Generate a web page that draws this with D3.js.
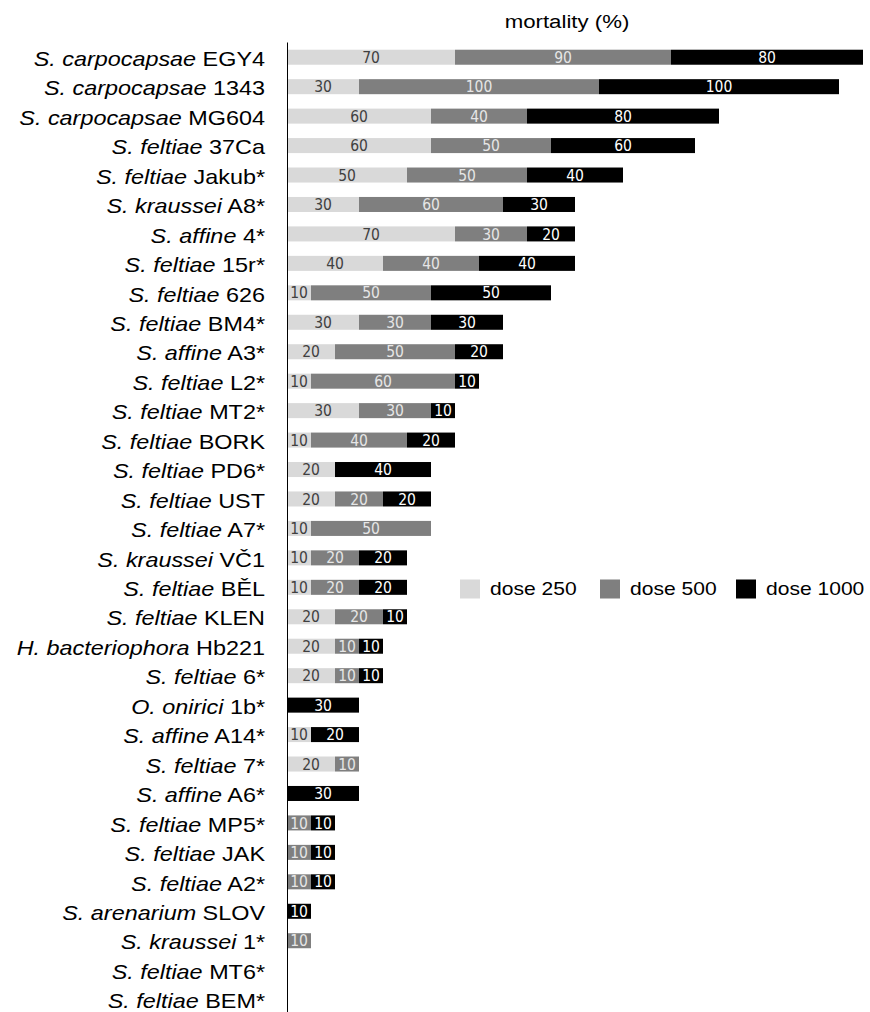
<!DOCTYPE html>
<html>
<head>
<meta charset="utf-8">
<script src="https://cdn.jsdelivr.net/npm/d3@7"></script>
<style>
  body { margin: 0; background: #fff; }
  svg { display: block; }
</style>
</head>
<body>
<div id="chart"></div>
<script>
// data
const genus = ["S. carpocapsae","S. carpocapsae","S. carpocapsae","S. feltiae","S. feltiae","S. kraussei","S. affine","S. feltiae","S. feltiae","S. feltiae","S. affine","S. feltiae","S. feltiae","S. feltiae","S. feltiae","S. feltiae","S. feltiae","S. kraussei","S. feltiae","S. feltiae","H. bacteriophora","S. feltiae","O. onirici","S. affine","S. feltiae","S. affine","S. feltiae","S. feltiae","S. feltiae","S. arenarium","S. kraussei","S. feltiae","S. feltiae"];
const strain = ["EGY4","1343","MG604","37Ca","Jakub*","A8*","4*","15r*","626","BM4*","A3*","L2*","MT2*","BORK","PD6*","UST","A7*","VČ1","BĚL","KLEN","Hb221","6*","1b*","A14*","7*","A6*","MP5*","JAK","A2*","SLOV","1*","MT6*","BEM*"];
const dose250  = [70,30,60,60,50,30,70,40,10,30,20,10,30,10,20,20,10,10,10,20,20,20, 0,10,20, 0, 0, 0, 0, 0, 0,0,0];
const dose500  = [90,100,40,50,50,60,30,40,50,30,50,60,30,40, 0,20,50,20,20,20,10,10, 0, 0,10, 0,10,10,10, 0,10,0,0];
const dose1000 = [80,100,80,60,40,30,20,40,50,30,20,10,10,20,40,20, 0,20,20,10,10,10,30,20, 0,30,10,10,10,10, 0,0,0];
const seriesNames = ["dose 250","dose 500","dose 1000"];
const colors = ["#d9d9d9","#7f7f7f","#000000"];
const textColors = ["#404040","#e6e6e6","#ffffff"];

const rows = strain.map((s, i) => ({
  id: i, genus: genus[i], strain: s,
  "dose 250": dose250[i], "dose 500": dose500[i], "dose 1000": dose1000[i]
}));

const width = 870, height = 1012;
const x0 = 287;
const sx = 1.17; // el gràfic original està estirat en horitzontal
const labelFont = "'Liberation Sans', Arial, sans-serif";
const numFont = "'Liberation Sans Narrow', 'DejaVu Sans Condensed', sans-serif";

const svg = d3.select("#chart").append("svg")
  .attr("width", width).attr("height", height);

const x = d3.scaleLinear().domain([0, 240]).range([x0, x0 + 576]);
const y = d3.scaleBand()
  .domain(rows.map(d => d.id))
  .range([42.5, 42.5 + 33 * 29.45])
  .paddingInner(0.49)
  .paddingOuter(0.245);

const layers = d3.stack().keys(seriesNames)(rows);

// barres
const g = svg.append("g");
layers.forEach((layer, k) => {
  const segs = layer.filter(d => d[1] - d[0] > 0);
  g.selectAll(null).data(segs).enter().append("rect")
    .attr("x", d => x(d[0]))
    .attr("y", d => y(d.data.id))
    .attr("width", d => x(d[1]) - x(d[0]))
    .attr("height", y.bandwidth())
    .attr("fill", colors[k]);
  g.selectAll(null).data(segs).enter().append("text")
    .attr("transform", d => `translate(${(x(d[0]) + x(d[1])) / 2},${y(d.data.id) + y.bandwidth() / 2})`)
    .attr("dy", "0.36em")
    .attr("text-anchor", "middle")
    .style("font-family", numFont)
    .style("font-size", "15.5px")
    .style("fill", textColors[k])
    .text(d => d[1] - d[0]);
});

// eix Y
const axis = svg.append("g")
  .attr("transform", `translate(${x0},0)`)
  .call(d3.axisLeft(y).tickSize(0).tickFormat(""));
axis.select(".domain").attr("stroke", "#000").attr("stroke-width", 1)
  .attr("d", `M0.5,${y.range()[0]}V${height}`);
axis.selectAll(".tick text").each(function(id) {
  const t = d3.select(this)
    .attr("x", 0)
    .attr("dy", "0.36em")
    .attr("transform", `translate(-22,1.5) scale(${sx},1)`)
    .style("font-family", labelFont)
    .style("font-size", "20px")
    .style("fill", "#000");
  t.append("tspan").style("font-style", "italic").text(rows[id].genus);
  t.append("tspan").text(" " + rows[id].strain);
});

// títol
svg.append("text")
  .attr("transform", `translate(567,28) scale(${sx},1)`)
  .attr("text-anchor", "middle")
  .style("font-family", labelFont)
  .style("font-size", "19px")
  .text("mortality (%)");

// llegenda
const legX = [460, 600, 736];
const leg = svg.append("g").attr("transform", "translate(0,589)");
seriesNames.forEach((name, k) => {
  leg.append("rect").attr("x", legX[k]).attr("y", -9.5)
    .attr("width", 20).attr("height", 19).attr("fill", colors[k]);
  leg.append("text")
    .attr("transform", `translate(${legX[k] + 30},0) scale(${sx},1)`)
    .attr("dy", "0.36em")
    .style("font-family", labelFont).style("font-size", "18px")
    .text(name);
});
</script>
</body>
</html>
